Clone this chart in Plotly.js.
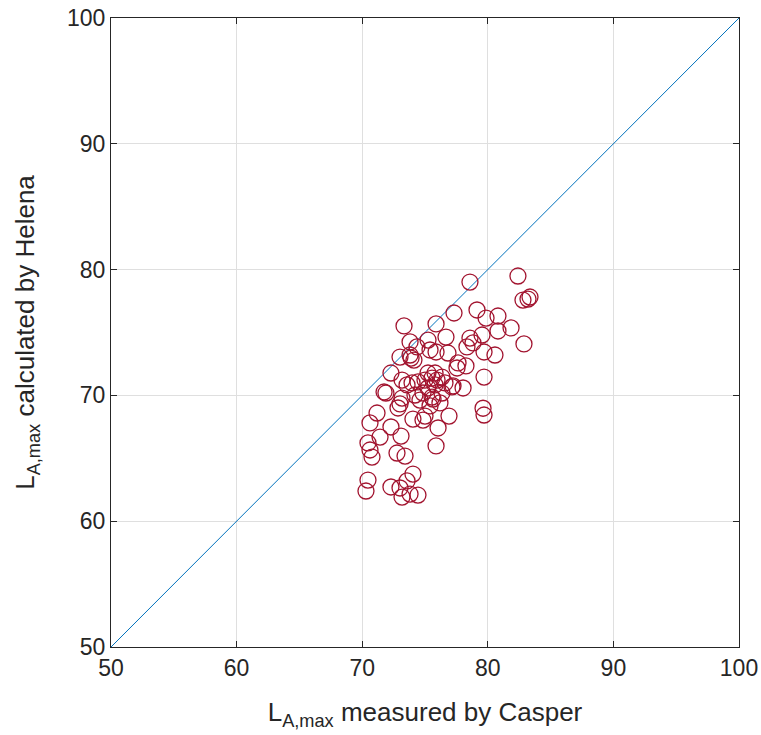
<!DOCTYPE html>
<html><head><meta charset="utf-8">
<script src="https://cdn.plot.ly/plotly-3.0.1.min.js"></script>
<style>body{margin:0;background:#fff}#plot{width:761px;height:735px}</style>
</head><body><div id="plot"></div>
<script>
const measuredCasper = [78.58,82.40,83.36,83.20,82.80,77.31,79.14,75.88,73.33,79.86,80.81,81.85,80.81,79.54,78.58,78.82,76.67,75.24,73.81,82.88,73.01,73.89,74.12,75.88,79.70,80.57,72.29,77.55,78.26,79.70,71.89,71.74,78.03,77.23,75.64,74.60,76.19,73.01,76.91,79.62,79.70,75.00,74.04,71.18,70.62,72.29,76.04,71.42,73.09,70.46,70.62,70.78,73.41,75.88,72.77,74.04,70.46,70.30,72.29,73.57,73.01,73.17,73.81,74.44,72.85,75.40,74.84,73.81,74.36,75.40,76.83,77.63,78.34,75.24,75.80,75.56,75.96,75.00,76.35,74.44,73.97,73.57,76.59,77.15,73.17,74.20,74.84,75.56,76.35,75.80,75.24,73.17];
const calculatedHelena = [79.01,79.49,77.82,77.66,77.58,76.55,76.79,75.68,75.52,76.15,76.31,75.36,75.12,74.80,74.56,74.17,74.64,74.40,74.25,74.09,73.05,72.97,72.81,73.45,73.45,73.21,71.78,72.18,72.34,71.46,70.19,70.27,70.59,70.75,69.71,69.63,69.40,69.32,68.36,68.98,68.44,68.36,68.12,68.60,67.81,67.49,67.41,66.69,66.77,66.22,65.66,65.10,65.18,65.98,65.42,63.75,63.27,62.40,62.72,63.20,62.64,61.92,62.16,62.08,69.00,69.16,68.04,73.21,73.85,73.61,73.37,72.58,73.85,71.78,71.78,71.38,71.22,71.22,71.46,71.07,70.99,70.83,70.99,70.67,69.79,70.03,70.19,69.87,70.19,70.83,70.59,71.22];
const refLineX = [50, 100];
const refLineY = [50, 100];
const tickVals = [50, 60, 70, 80, 90, 100];

const FONT = '"Liberation Sans", Arial, Helvetica, sans-serif';
const axisCommon = {
  range: [50, 100], tickvals: tickVals, ticks: 'inside', ticklen: 6, tickcolor: '#262626',
  showline: true, linecolor: '#262626', linewidth: 1, mirror: 'ticks',
  showgrid: true, gridcolor: '#dfdfdf', gridwidth: 1, zeroline: false,
  tickfont: {family: FONT, size: 23, color: '#262626'}
};
const data = [
  {x: refLineX, y: refLineY, type: 'scatter', mode: 'lines', line: {color: '#0072BD', width: 1}, hoverinfo: 'skip'},
  {x: measuredCasper, y: calculatedHelena, type: 'scatter', mode: 'markers',
   marker: {symbol: 'circle-open', size: 16, color: '#A2142F', line: {width: 1.3, color: '#A2142F'}}}
];
const layout = {
  width: 761, height: 735, showlegend: false,
  paper_bgcolor: '#fff', plot_bgcolor: '#fff',
  margin: {l: 111, r: 22, t: 18, b: 88},
  xaxis: Object.assign({}, axisCommon, {
    tickangle: 0,
    title: {text: 'L<sub>A,max</sub> measured by Casper', standoff: 23,
      font: {family: FONT, size: 26, color: '#262626'}}
  }),
  yaxis: Object.assign({}, axisCommon, {
    title: {text: 'L<sub>A,max</sub> calculated by Helena', standoff: 24,
      font: {family: FONT, size: 26, color: '#262626'}}
  })
};
Plotly.newPlot('plot', data, layout, {displayModeBar: false});
</script></body></html>
